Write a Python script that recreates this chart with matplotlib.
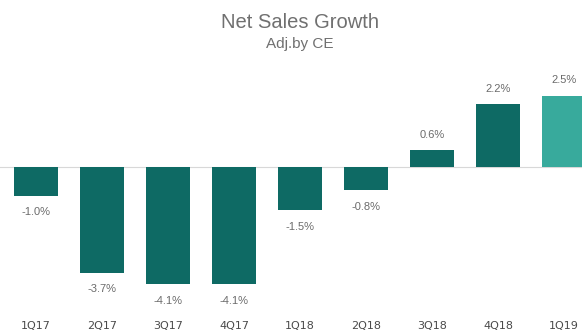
import matplotlib
matplotlib.use("Agg")
import matplotlib.pyplot as plt

quarters = ["1Q17", "2Q17", "3Q17", "4Q17", "1Q18", "2Q18", "3Q18", "4Q18", "1Q19"]
growth = [-1.0, -3.7, -4.1, -4.1, -1.5, -0.8, 0.6, 2.2, 2.5]
bar_colors = ["#0e6a64"] * 8 + ["#38aa9c"]

plt.rcParams["font.family"] = ["Liberation Sans", "DejaVu Sans"]

fig = plt.figure(figsize=(5.82, 3.34), dpi=100)
ax = fig.add_axes([0, 24 / 334, 1, 310 / 334])

x = list(range(len(quarters)))
ax.bar(x, growth, width=0.67, color=bar_colors)
ax.axhline(0, color="#d8d8d8", linewidth=0.8, zorder=0)

for xi, v in zip(x, growth):
    off = 11 if v >= 0 else -12
    ax.annotate(f"{v:.1f}%", (xi, v), xytext=(0, off), textcoords="offset points",
                ha="center", va="center", fontsize=8, color="#6b6b6b")

ax.set_xlim(-0.545, 8.27)
ax.set_ylim(-5.0, 5.84)
ax.set_xticks(x)
ax.set_xticklabels(quarters, fontsize=8, color="#4a4a4a", family="DejaVu Sans")
ax.tick_params(axis="x", length=0, pad=8)
ax.set_yticks([])
for s in ax.spines.values():
    s.set_visible(False)

fig.text(0.515, 1 - 22 / 334, "Net Sales Growth", ha="center", va="center",
         fontsize=14.5, color="#707070")
fig.text(0.515, 1 - 44 / 334, "Adj.by CE", ha="center", va="center",
         fontsize=11, color="#707070")

fig.savefig("out.png", dpi=100)
